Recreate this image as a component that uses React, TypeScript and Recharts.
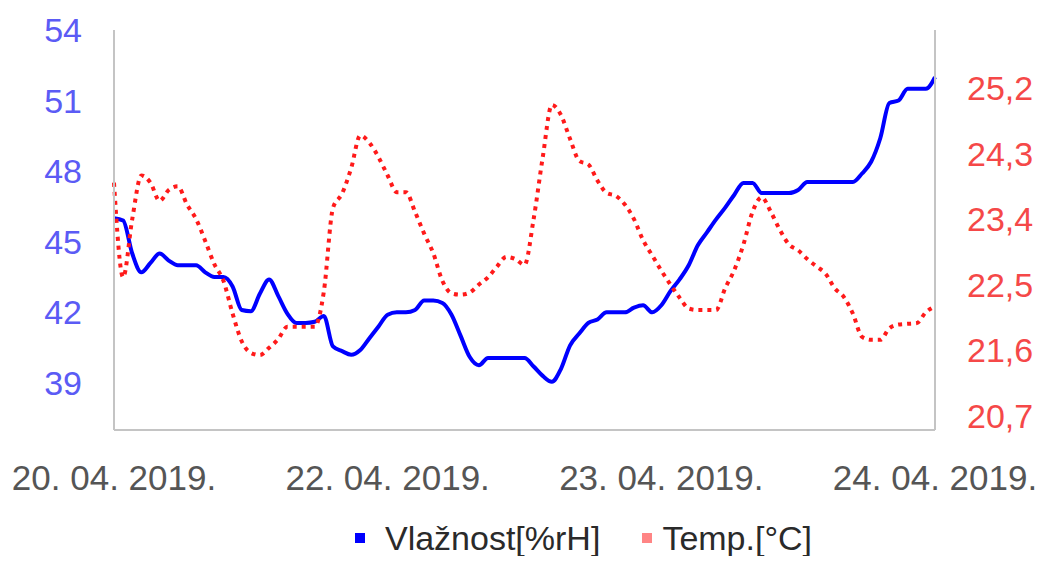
import { LineChart, Line, XAxis, YAxis, Legend } from "recharts";

// x positions are sample indexes; only four dates are labelled, evenly spaced
const dateLabels = ["20. 04. 2019.", "22. 04. 2019.", "23. 04. 2019.", "24. 04. 2019."];
const dateTickIndex = [0, 30, 60, 90];

const humidityTicks = [39, 42, 45, 48, 51, 54];
const tempTicks = [20.7, 21.6, 22.5, 23.4, 24.3, 25.2];

// Vlažnost [%rH]
const humidity = [
  46.0, 45.9, 44.5, 43.7, 44.1, 44.5, 44.2, 44.0, 44.0, 44.0,
  43.7, 43.5, 43.5, 43.1, 42.1, 42.05, 42.8, 43.4, 42.7, 41.95,
  41.55, 41.55, 41.6, 41.85, 40.55, 40.35, 40.2, 40.4, 40.9, 41.4,
  41.9, 42.0, 42.0, 42.1, 42.5, 42.5, 42.4, 41.9, 41.0, 40.1,
  39.75, 40.06, 40.06, 40.06, 40.06, 40.06, 39.7, 39.3, 39.05, 39.6,
  40.6, 41.1, 41.55, 41.7, 42.0, 42.0, 42.0, 42.2, 42.3, 42.0,
  42.3, 42.9, 43.4, 44.0, 44.85, 45.4, 45.95, 46.45, 47.0, 47.5,
  47.5, 47.07, 47.07, 47.07, 47.07, 47.2, 47.54, 47.54, 47.54, 47.54,
  47.54, 47.54, 47.9, 48.4, 49.4, 50.9, 51.0, 51.5, 51.5, 51.5,
  52.0,
];

// Temp. [°C]
const temperature = [
  23.9, 22.6, 23.4, 24.0, 23.9, 23.65, 23.8, 23.85, 23.6, 23.4,
  23.1, 22.78, 22.55, 22.1, 21.72, 21.56, 21.53, 21.63, 21.75, 21.92,
  21.92, 21.92, 21.92, 22.4, 23.55, 23.75, 24.1, 24.55, 24.45, 24.25,
  24.0, 23.77, 23.77, 23.5, 23.2, 22.93, 22.55, 22.38, 22.36, 22.39,
  22.5, 22.6, 22.75, 22.88, 22.85, 22.77, 23.4, 24.25, 24.97, 24.83,
  24.5, 24.2, 24.15, 23.93, 23.76, 23.72, 23.6, 23.4, 23.11, 22.9,
  22.69, 22.5, 22.32, 22.17, 22.15, 22.15, 22.15, 22.45, 22.7, 23.05,
  23.5, 23.7, 23.5, 23.25, 23.05, 22.97, 22.85, 22.75, 22.65, 22.45,
  22.33, 22.1, 21.78, 21.74, 21.74, 21.9, 21.95, 21.96, 21.97, 22.12,
  22.2,
];

const data = humidity.map((h, i) => ({ idx: i, humidity: h, temp: temperature[i] }));

const font = "'Liberation Sans', Arial, sans-serif";

function ChartLegend() {
  return (
    <div
      style={{
        display: "flex",
        justifyContent: "center",
        alignItems: "center",
        height: 46,
        paddingTop: 15,
        paddingBottom: 3,
        paddingLeft: 118,
        fontFamily: font,
        fontSize: 34,
        color: "#2a2a2a",
      }}
    >
      <span style={{ width: 10, height: 10, background: "#0000ff", marginRight: 20 }} />
      <span>Vlažnost[%rH]</span>
      <span style={{ width: 10, height: 10, background: "#ff8585", marginLeft: 42, marginRight: 10 }} />
      <span>Temp.[°C]</span>
    </div>
  );
}

export default function App() {
  return (
    <div style={{ margin: -8, width: 1049, height: 564, background: "#fff" }}>
      <LineChart
        width={1049}
        height={564}
        data={data}
        margin={{ top: 30, right: 0, bottom: 0, left: 0 }}
      >
        <XAxis
          dataKey="idx"
          type="number"
          domain={[0, 90]}
          ticks={dateTickIndex}
          interval={0}
          tickFormatter={(v: number) => dateLabels[dateTickIndex.indexOf(v)]}
          height={70}
          tickLine={false}
          tickSize={0}
          tickMargin={35}
          axisLine={{ stroke: "#c4c4c4", strokeWidth: 2 }}
          tick={{ fill: "#555", fontSize: 35, fontFamily: font }}
        />
        <YAxis
          yAxisId="left"
          domain={[37, 54]}
          ticks={humidityTicks}
          interval={0}
          width={114}
          tickLine={false}
          tickSize={0}
          tickMargin={32}
          axisLine={{ stroke: "#c4c4c4", strokeWidth: 2 }}
          tick={{ fill: "#5b5bf5", fontSize: 34, fontFamily: font }}
        />
        <YAxis
          yAxisId="right"
          orientation="right"
          domain={[20.5, 26]}
          ticks={tempTicks}
          interval={0}
          width={114}
          tickLine={false}
          tickSize={0}
          tickMargin={32}
          tickFormatter={(v: number) => v.toFixed(1).replace(".", ",")}
          axisLine={{ stroke: "#c4c4c4", strokeWidth: 2 }}
          tick={{ fill: "#f54848", fontSize: 34, fontFamily: font }}
        />
        <Legend verticalAlign="bottom" content={<ChartLegend />} />
        <Line
          yAxisId="left"
          type="monotone"
          dataKey="humidity"
          stroke="#0000ff"
          strokeWidth={4}
          dot={false}
          isAnimationActive={false}
        />
        <Line
          yAxisId="right"
          type="monotone"
          dataKey="temp"
          stroke="#ff1a1a"
          strokeWidth={4}
          strokeDasharray="4 5"
          dot={false}
          isAnimationActive={false}
        />
      </LineChart>
    </div>
  );
}
